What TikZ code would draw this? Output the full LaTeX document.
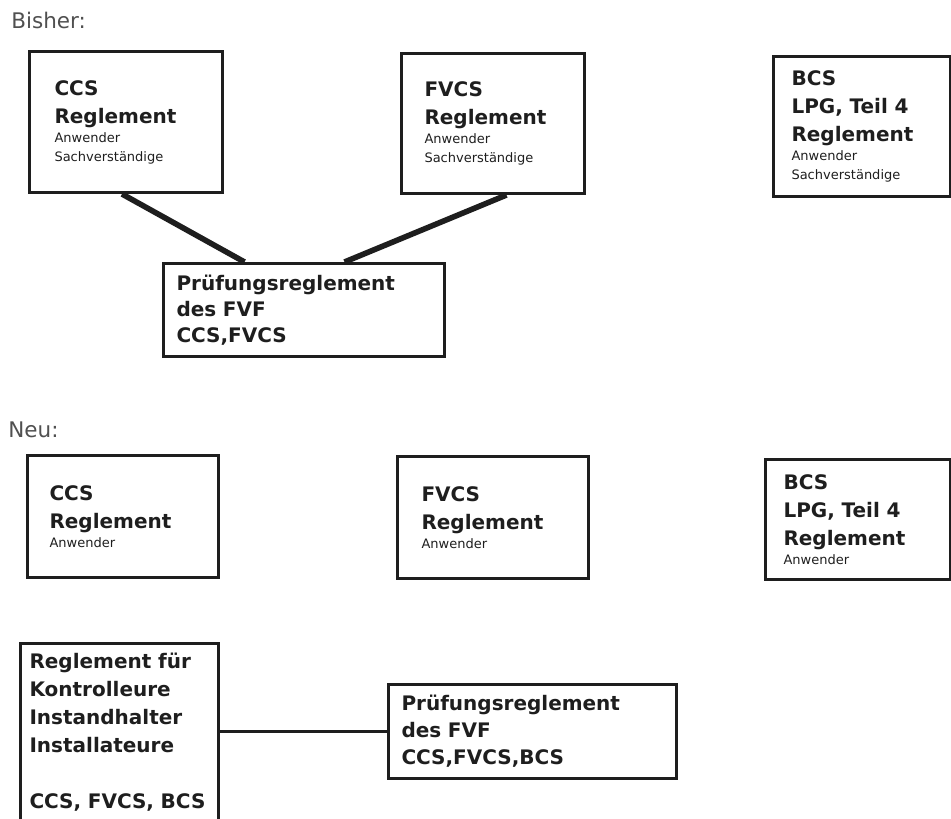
\documentclass[tikz,border=0pt]{standalone}
\usepackage{fontspec}
\setmainfont{DejaVu Sans}
\definecolor{tinte}{HTML}{1E1E1E}
\definecolor{grautext}{HTML}{505050}
\newcommand{\gross}{\fontsize{10}{14}\selectfont\bfseries}
\newcommand{\klein}{\fontsize{6.5}{9.5}\selectfont\mdseries}

\begin{document}
\begin{tikzpicture}[x=0.5pt, y=-0.5pt,
    kasten/.style={draw=tinte, line width=1.5pt, text=tinte, anchor=north west,
      align=left, inner ysep=0pt, font=\gross},
    titel/.style={anchor=base west, text=grautext, inner sep=0pt,
      font=\fontsize{10.75}{12}\selectfont},
    verbindung/.style={draw=tinte, line width=2.8pt},
    linie/.style={draw=tinte, line width=1.3pt}]

    \useasboundingbox (0,0) rectangle (951,818);
    \clip (0,0) rectangle (951,818);

    % Bisher
    \node[titel] (bisher) at (11,29) {Bisher:};

    \node[kasten, minimum width=96.5pt, minimum height=70.5pt, inner xsep=12.5pt,
      text width=71.5pt] (ccsAlt) at (28,50)
      {CCS\par Reglement\par\klein Anwender\par Sachverständige\par};
    \node[kasten, minimum width=91.5pt, minimum height=70pt, inner xsep=11.5pt,
      text width=68.5pt] (fvcsAlt) at (400,52)
      {FVCS\par Reglement\par\klein Anwender\par Sachverständige\par};
    \node[kasten, minimum width=88.5pt, minimum height=70pt, inner xsep=9pt,
      text width=70.5pt] (bcsAlt) at (772,55)
      {BCS\par LPG, Teil 4\par Reglement\par\klein Anwender\par Sachverständige\par};

    \node[kasten, minimum width=140.5pt, minimum height=46.5pt, inner xsep=6.5pt,
      text width=127.5pt, font=\fontsize{10}{13}\selectfont\bfseries] (pruefAlt) at (162,262)
      {Prüfungsreglement\par des FVF\par CCS,FVCS\par};

    \draw[verbindung] ([xshift=-2pt]ccsAlt.south) -- ([xshift=-29.75pt]pruefAlt.north);
    \draw[verbindung] ([xshift=6.75pt]fvcsAlt.south) -- ([xshift=20.25pt]pruefAlt.north);

    % Neu
    \node[titel] (neu) at (8,437) {Neu:};

    \node[kasten, minimum width=95.5pt, minimum height=61pt, inner xsep=11pt,
      text width=73.5pt] (ccsNeu) at (26,454)
      {CCS\par Reglement\par\klein Anwender\par};
    \node[kasten, minimum width=95.5pt, minimum height=61pt, inner xsep=12pt,
      text width=71.5pt] (fvcsNeu) at (396,455)
      {FVCS\par Reglement\par\klein Anwender\par};
    \node[kasten, minimum width=92.5pt, minimum height=60pt, inner xsep=9pt,
      text width=74.5pt] (bcsNeu) at (764,458)
      {BCS\par LPG, Teil 4\par Reglement\par\klein Anwender\par};

    \node[kasten, minimum width=99pt, inner xsep=4.5pt, inner ysep=5pt,
      text width=90pt] (kontrNeu) at (19,642)
      {Reglement für\par Kontrolleure\par Instandhalter\par Installateure\par
       \vspace{14pt}CCS, FVCS, BCS\par\vspace*{30pt}};

    \node[kasten, minimum width=144pt, minimum height=47pt, inner xsep=6.5pt,
      text width=131pt, font=\fontsize{10}{13.5}\selectfont\bfseries] (pruefNeu) at (387,683)
      {Prüfungsreglement\par des FVF\par CCS,FVCS,BCS\par};

    \draw[linie] (kontrNeu.east |- pruefNeu.west) -- (pruefNeu.west);
\end{tikzpicture}
\end{document}
